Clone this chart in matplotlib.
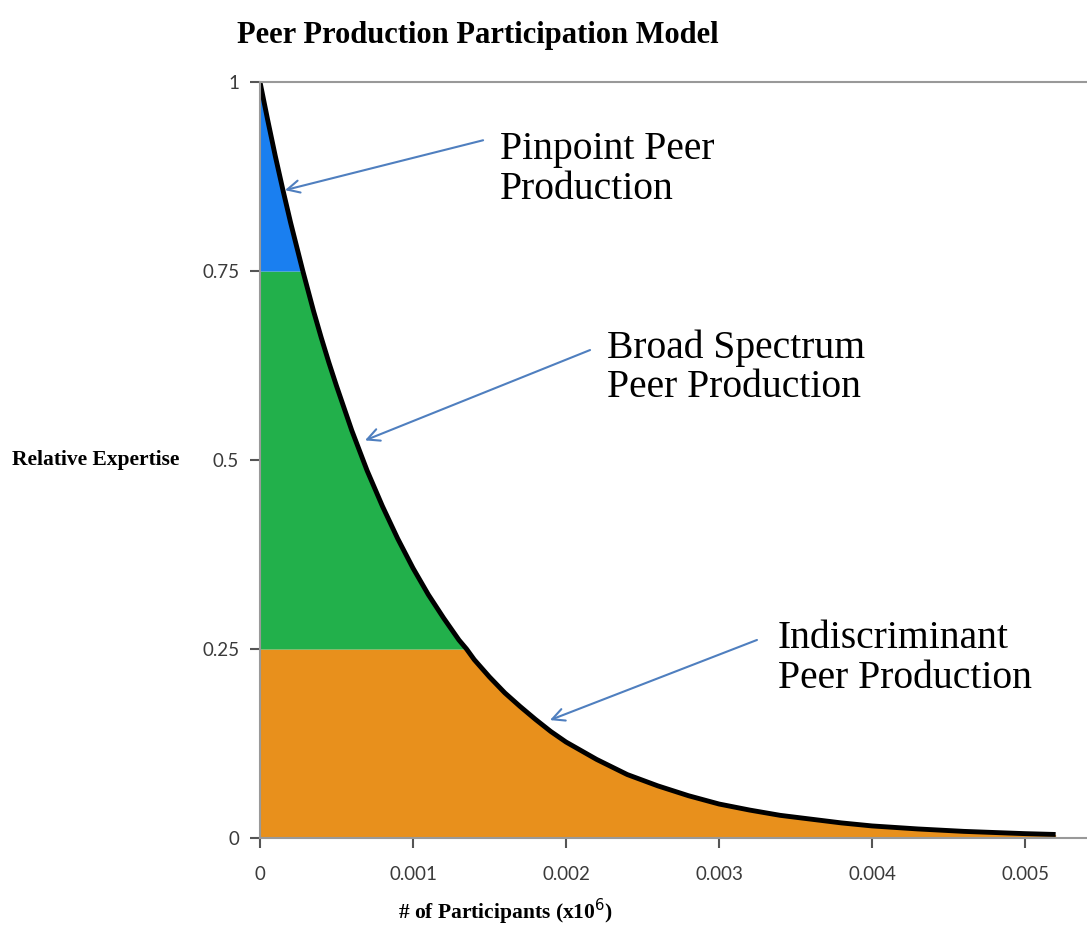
import numpy as np
import matplotlib.pyplot as plt

# values (x in units of 10^6 participants, y relative expertise)
participants = [0, 0.00005, 0.0001, 0.00015, 0.0002, 0.00028, 0.00035, 0.0004, 0.00045,
                0.0005, 0.0006, 0.0007, 0.0008, 0.0009, 0.001, 0.0011, 0.0012, 0.0013,
                0.00135, 0.0014, 0.0015, 0.0016, 0.0017, 0.0018, 0.0019, 0.002, 0.0022,
                0.0024, 0.0026, 0.0028, 0.003, 0.0032, 0.0034, 0.0036, 0.0038, 0.004,
                0.0043, 0.0046, 0.005, 0.0052]
expertise = [1.0, 0.950, 0.902, 0.857, 0.814, 0.75, 0.697, 0.662, 0.629,
             0.598, 0.539, 0.486, 0.439, 0.396, 0.357, 0.322, 0.291, 0.262,
             0.25, 0.236, 0.213, 0.192, 0.174, 0.157, 0.141, 0.127, 0.104,
             0.084, 0.069, 0.056, 0.045, 0.037, 0.030, 0.025, 0.020, 0.016,
             0.012, 0.0088, 0.0058, 0.0047]

bands = [(0.0, 0.25, '#e8901c'), (0.25, 0.75, '#22b04b'), (0.75, 1.0, '#1a7ff0')]

labels = ['Pinpoint Peer\nProduction', 'Broad Spectrum\nPeer Production',
          'Indiscriminant\nPeer Production']
arrow_tips = [(0.000163, 0.857), (0.000686, 0.526), (0.001895, 0.156)]
arrow_tails = [(0.001458, 0.923), (0.002157, 0.6455), (0.003248, 0.262)]
text_pos = [(0.001569, 0.884), (0.002268, 0.622), (0.003386, 0.237)]

xticks = [0, 0.001, 0.002, 0.003, 0.004, 0.005]
xtick_labels = ['0', '0.001', '0.002', '0.003', '0.004', '0.005']
yticks = [0, 0.25, 0.5, 0.75, 1]
ytick_labels = ['0', '0.25', '0.5', '0.75', '1']

x = np.array(participants)
y = np.array(expertise)

plt.rcParams['font.family'] = ['Liberation Serif', 'DejaVu Serif']

fig = plt.figure(figsize=(10.87, 9.26), dpi=100)
ax = fig.add_axes([0.2392, 0.095, 0.7608, 0.8164])

for lo, hi, col in bands:
    top = np.clip(y, lo, hi)
    ax.fill_between(x, lo, top, where=y > lo, color=col, linewidth=0, interpolate=True)

ax.plot(x, y, color='black', lw=3.5, solid_capstyle='butt', solid_joinstyle='round')

for lab, tip, tail, pos in zip(labels, arrow_tips, arrow_tails, text_pos):
    ax.annotate('', xy=tip, xytext=tail,
                arrowprops=dict(arrowstyle='->', color='#4f7fbf', lw=1.5,
                                mutation_scale=22, shrinkA=0, shrinkB=0))
    ax.text(pos[0], pos[1], lab, fontsize=28.5, va='center', ha='left',
            linespacing=1.1)

ax.set_xlim(0, 0.005405)
ax.set_ylim(0, 1)
ax.set_xticks(xticks)
ax.set_xticklabels(xtick_labels, family='Lato')
ax.set_yticks(yticks)
ax.set_yticklabels(ytick_labels, family='Lato')
ax.tick_params(axis='both', labelsize=13.5, colors='#555555', labelcolor='#3a3a3a',
               length=7, width=1.5, direction='out')
ax.tick_params(axis='x', pad=13)
ax.tick_params(axis='y', pad=8)

for side in ['left', 'bottom', 'top']:
    ax.spines[side].set_color('#999999')
    ax.spines[side].set_linewidth(1.5)
ax.spines['right'].set_visible(False)

fig.text(0.44, 0.962, 'Peer Production Participation Model', fontsize=22,
         fontweight='bold', ha='center', va='center')
fig.text(0.011, 0.503, 'Relative Expertise', fontsize=15.5, fontweight='bold',
         ha='left', va='center')
fig.text(0.465, 0.015, '# of Participants (x10$^6$)', fontsize=15.5,
         fontweight='bold', ha='center', va='center')

plt.savefig('out.png', dpi=100)
